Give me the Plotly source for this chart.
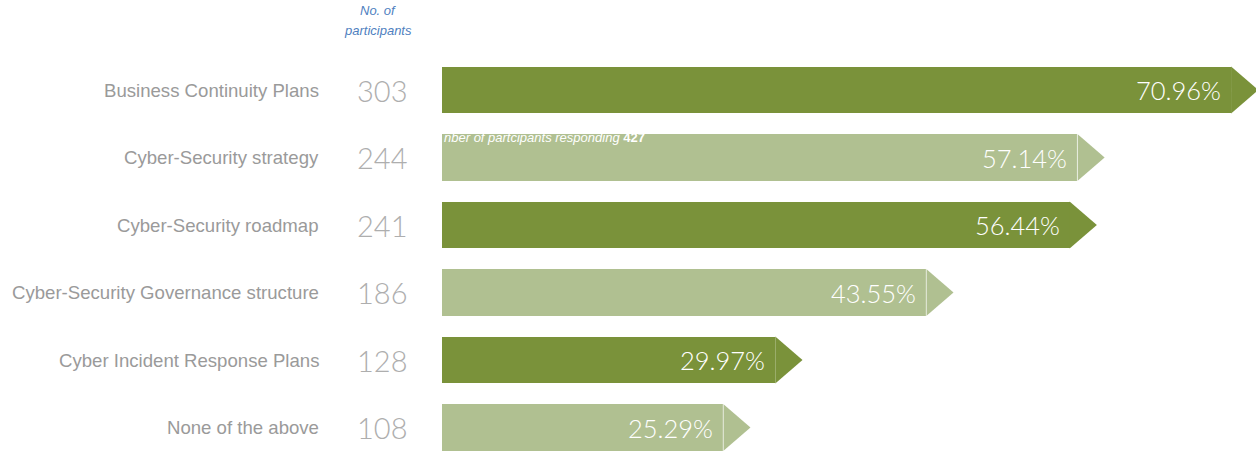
import plotly.graph_objects as go

# Survey results: share of respondents with each plan in place
categories = [
    "Business Continuity Plans",
    "Cyber-Security strategy",
    "Cyber-Security roadmap",
    "Cyber-Security Governance structure",
    "Cyber Incident Response Plans",
    "None of the above",
]
participants = [303, 244, 241, 186, 128, 108]
percentages = [70.96, 57.14, 56.44, 43.55, 29.97, 25.29]
total_responding = 427

DARK = "#7A923A"
LIGHT = "#B0C091"
colors = [DARK if i % 2 == 0 else LIGHT for i in range(len(categories))]

W, H = 1256, 451
ROW_TOP = 90.0      # pixel centre of the first row
ROW_STEP = 67.5     # pixel distance between rows
BAR_W = 0.696       # bar thickness in row units
TIP = 2.45          # arrow head length in % units
LEFT = 442          # pixel where the value axis starts
PX_PER_PCT = 11.12

rows = list(range(len(categories)))

fig = go.Figure()

# Bar bodies
fig.add_trace(go.Bar(
    x=percentages, y=rows, orientation="h", width=BAR_W,
    marker=dict(color=colors, line=dict(width=0)),
    hoverinfo="skip", showlegend=False,
))

# Arrow heads at the end of each bar
for i, (v, c) in enumerate(zip(percentages, colors)):
    half = BAR_W / 2
    fig.add_trace(go.Scatter(
        x=[v, v + TIP, v, v], y=[i - half, i, i + half, i - half],
        mode="lines", fill="toself", fillcolor=c, line=dict(width=0, color=c),
        hoverinfo="skip", showlegend=False,
    ))
    if c == LIGHT:
        fig.add_trace(go.Scatter(
            x=[v, v], y=[i - half, i + half], mode="lines",
            line=dict(color="rgba(255,255,255,0.55)", width=1),
            hoverinfo="skip", showlegend=False,
        ))

annotations = []
for i, (cat, n, p) in enumerate(zip(categories, participants, percentages)):
    annotations.append(dict(
        x=321 / W, xref="paper", y=i, yref="y", text=cat, showarrow=False,
        xanchor="right", yanchor="middle",
        font=dict(family="Arial", size=18.6, color="#9A9A9A"),
    ))
    annotations.append(dict(
        x=382 / W, xref="paper", y=i, yref="y", text=str(n), showarrow=False,
        xanchor="center", yanchor="middle",
        font=dict(family="Lato", size=29, color="#AEAEAE", weight=300),
    ))
    # Percentage label inside the bar end
    annotations.append(dict(
        x=p, xref="x", y=i, yref="y", text=f"{p:.2f}%", showarrow=False,
        xanchor="right", yanchor="middle", xshift=-8,
        font=dict(family="Lato", size=25.5, color="white", weight=300),
    ))

annotations += [
    dict(x=378 / W, xref="paper", y=1 - 10 / H, yref="paper", text="<i>No. of</i>",
         showarrow=False, xanchor="center", yanchor="middle",
         font=dict(family="Arial", size=13, color="#4F7FC0")),
    dict(x=378 / W, xref="paper", y=1 - 30 / H, yref="paper", text="<i>participants</i>",
         showarrow=False, xanchor="center", yanchor="middle",
         font=dict(family="Arial", size=13, color="#4F7FC0")),
    dict(x=442 / W, xref="paper", y=1 - 138 / H, yref="paper",
         text=f"<i>nber of partcipants responding</i> <b>{total_responding}</b>",
         showarrow=False, xanchor="left", yanchor="middle",
         font=dict(family="Arial", size=13, color="white")),
]

x_max = (W - LEFT) / PX_PER_PCT
y_lo = -ROW_TOP / ROW_STEP
y_hi = (H - ROW_TOP) / ROW_STEP

fig.update_layout(
    width=W, height=H, margin=dict(l=0, r=0, t=0, b=0),
    paper_bgcolor="white", plot_bgcolor="white",
    xaxis=dict(domain=[LEFT / W, 1], range=[0, x_max], visible=False, fixedrange=True),
    yaxis=dict(range=[y_hi, y_lo], visible=False, fixedrange=True),
    annotations=annotations, bargap=0,
)

fig.write_html("out.html")
